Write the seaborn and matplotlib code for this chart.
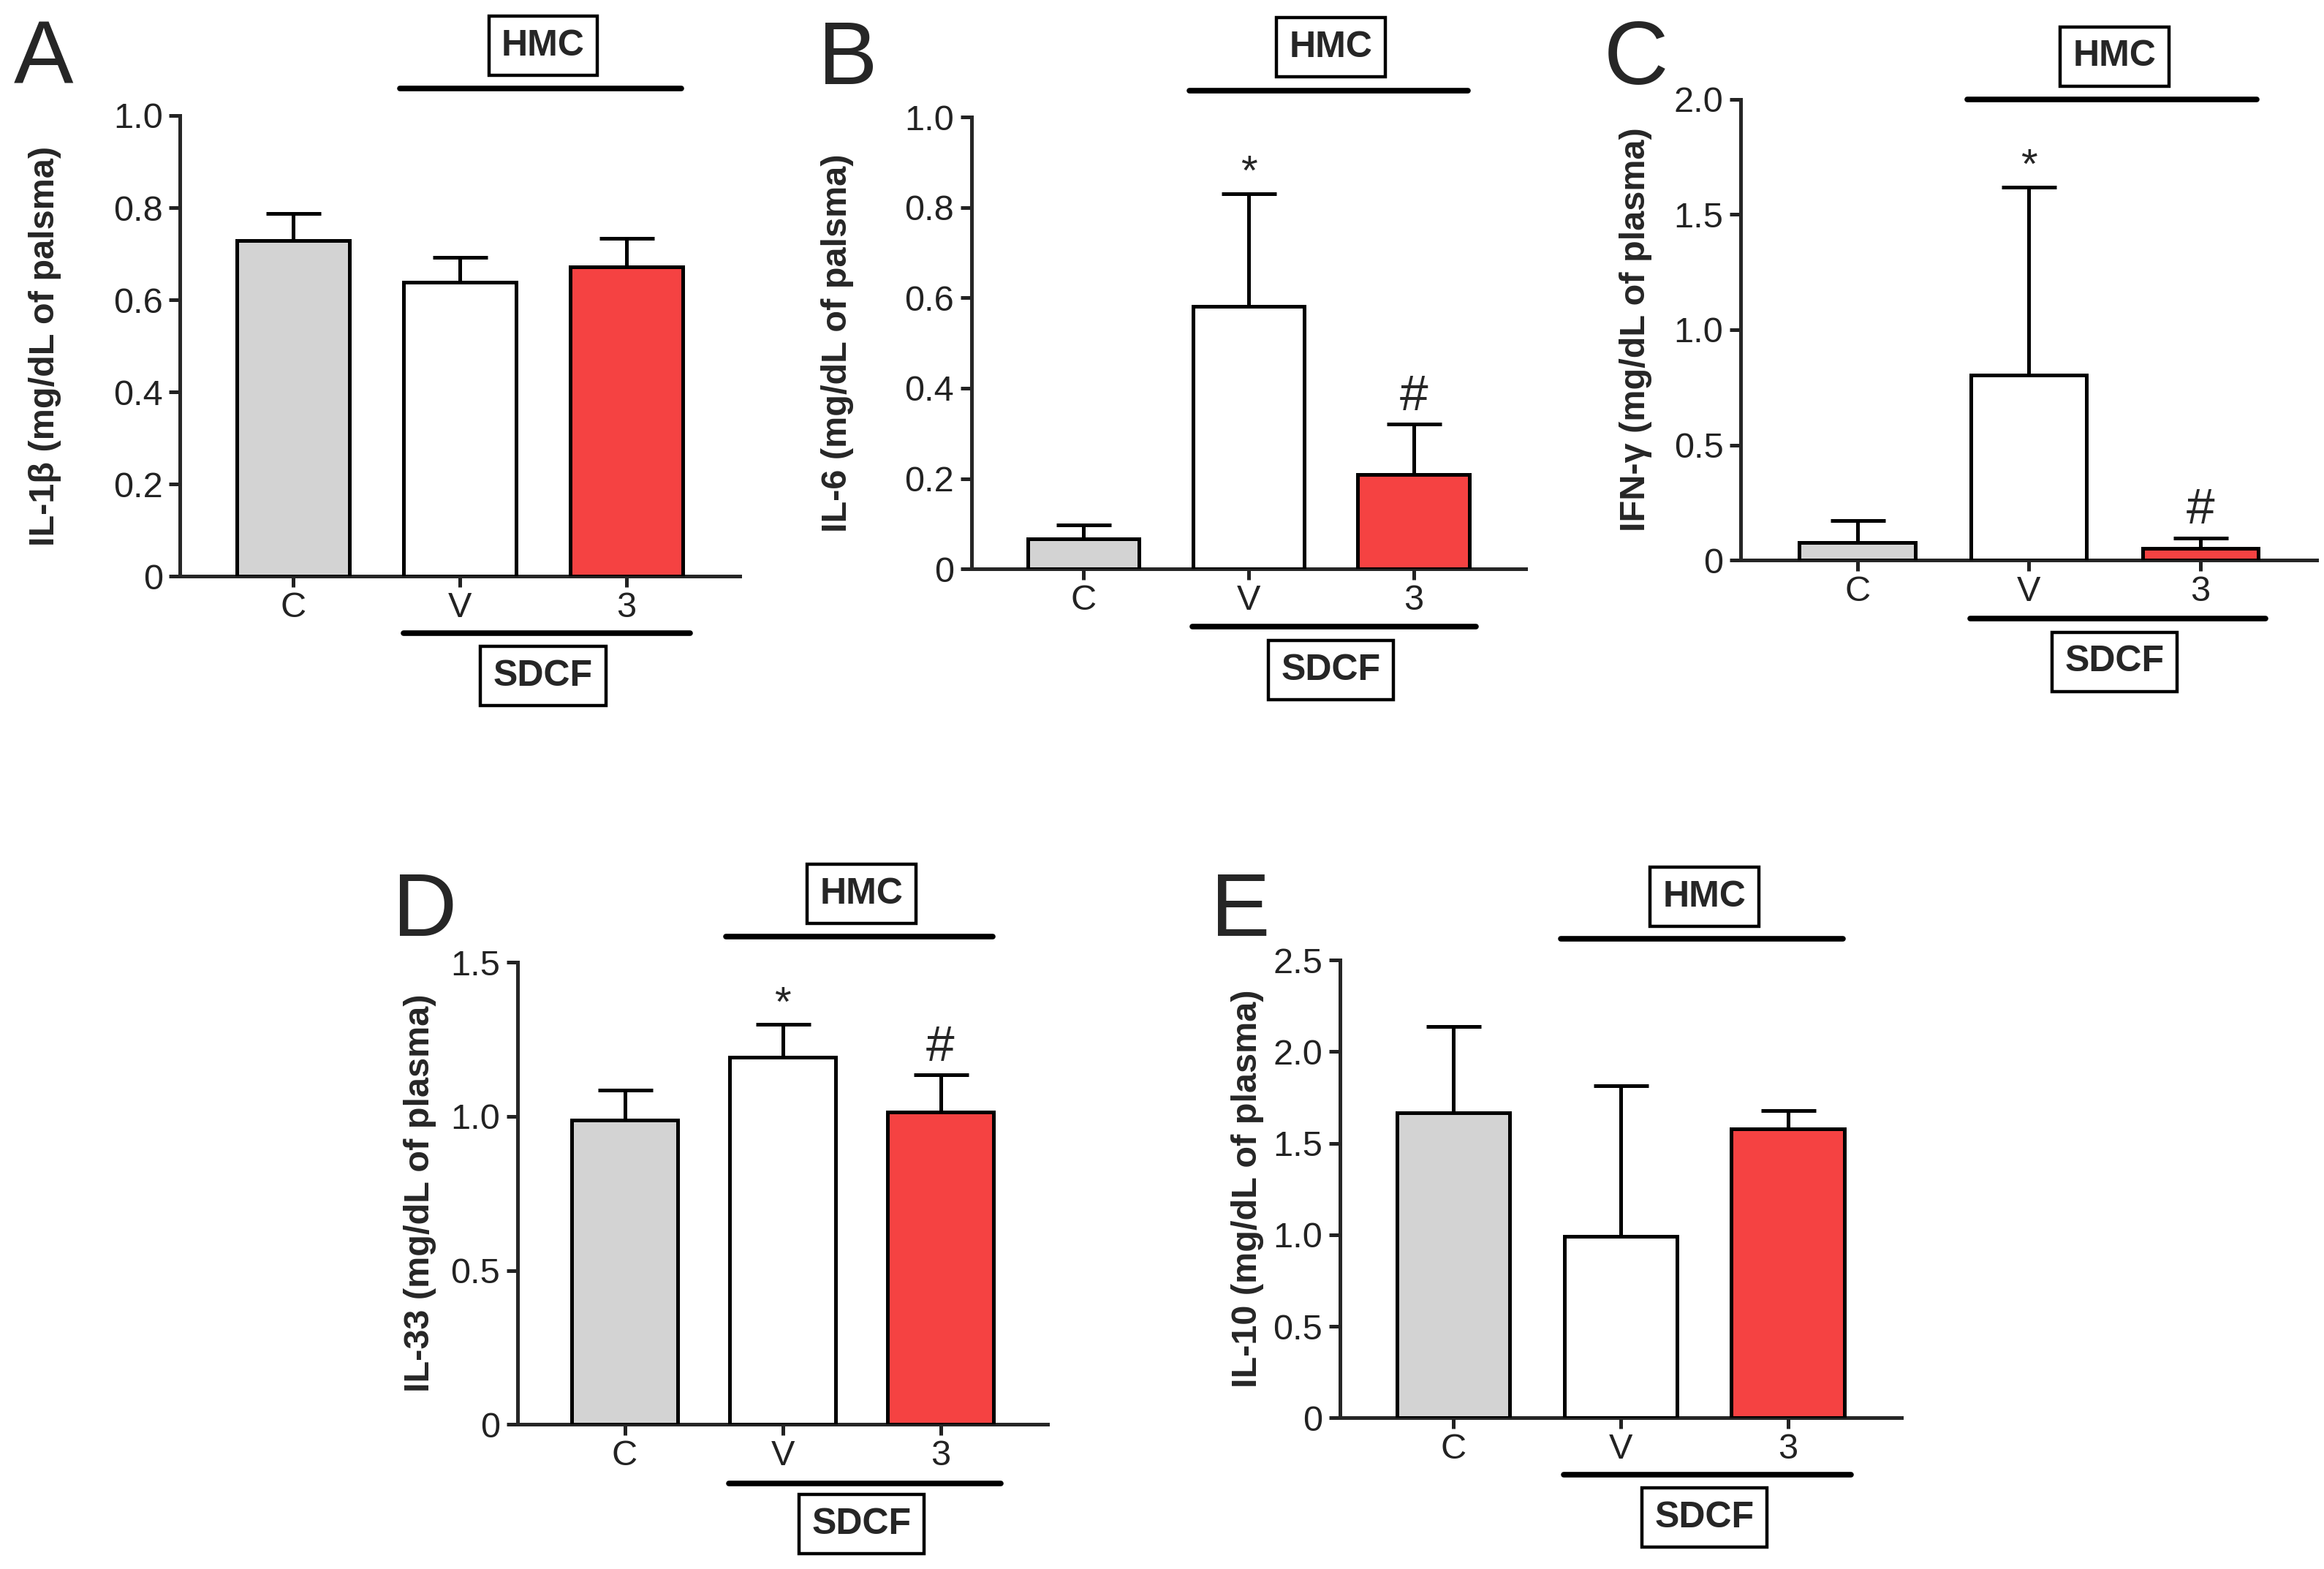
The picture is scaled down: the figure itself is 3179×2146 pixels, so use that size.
import numpy as np
import pandas as pd
import seaborn as sns
import matplotlib
matplotlib.use("Agg")
import matplotlib.pyplot as plt
import matplotlib.transforms as mtransforms
from matplotlib.ticker import FuncFormatter

groups = ["C", "V", "3"]

il1b_mean = [0.728, 0.638, 0.671]
il1b_top = [0.788, 0.692, 0.733]
il6_mean = [0.067, 0.581, 0.209]
il6_top = [0.098, 0.831, 0.320]
ifng_mean = [0.075, 0.802, 0.051]
ifng_top = [0.173, 1.620, 0.097]
il33_mean = [0.989, 1.191, 1.014]
il33_top = [1.084, 1.298, 1.134]
il10_mean = [1.668, 0.992, 1.579]
il10_top = [2.137, 1.815, 1.680]

labels = ["IL-1β (mg/dL of palsma)", "IL-6 (mg/dL of palsma)", "IFN-γ (mg/dL of plasma)",
          "IL-33 (mg/dL of plasma)", "IL-10 (mg/dL of plasma)"]
letters = ["A", "B", "C", "D", "E"]
ymax = [1.0, 1.0, 2.0, 1.5, 2.5]
ystep = [0.2, 0.2, 0.5, 0.5, 0.5]
marks = [("", ""), ("*", "#"), ("*", "#"), ("*", "#"), ("", "")]

colors = ["#d3d3d3", "#ffffff", "#f54242"]

sns.set_style("ticks")
plt.rcParams["font.family"] = ["Liberation Sans", "DejaVu Sans"]

fig = plt.figure(figsize=(31.79, 21.46), dpi=100)

# axes rect, letter pos, ylabel x, hmc line y, hmc box y, sdcf line y, sdcf box y
layout = [
    ([0.0775, 0.6327, 0.2408, 0.2937], (0.006, 0.988), -0.242, 1.059, 1.151, -0.124, -0.217),
    ([0.418, 0.6374, 0.2385, 0.2880], (0.352, 0.988), -0.242, 1.059, 1.154, -0.127, -0.224),
    ([0.749, 0.6430, 0.2480, 0.2937], (0.690, 0.988), -0.182, 1.000, 1.093, -0.127, -0.221),
    ([0.2226, 0.0921, 0.2283, 0.2946], (0.169, 0.445), -0.184, 1.055, 1.148, -0.128, -0.216),
    ([0.5765, 0.0963, 0.2417, 0.2918], (0.521, 0.445), -0.164, 1.046, 1.138, -0.124, -0.218),
]

means = [il1b_mean, il6_mean, ifng_mean, il33_mean, il10_mean]
tops = [il1b_top, il6_top, ifng_top, il33_top, il10_top]

fmt = FuncFormatter(lambda v, p: "0" if abs(v) < 1e-9 else f"{v:.1f}")

for i in range(5):
    rect, lpos, ylx, hl, hb, sl, sb = layout[i]
    ax = fig.add_axes(rect)
    df = pd.DataFrame({"group": groups, "value": means[i]})
    sns.barplot(data=df, x="group", y="value", hue="group", palette=colors, order=groups,
                errorbar=None, width=0.675, edgecolor="black", linewidth=3.6, legend=False,
                saturation=1, ax=ax, zorder=3)
    err = np.array(tops[i]) - np.array(means[i])
    ax.errorbar(x=np.arange(3), y=means[i], yerr=[np.zeros(3), err], fmt="none",
                ecolor="black", elinewidth=3.6, capsize=27, capthick=3.6, zorder=2)
    ax.set_xlim(-0.68, 2.68)
    ax.set_ylim(0, ymax[i])
    ax.set_yticks(np.arange(0, ymax[i] + 1e-6, ystep[i]))
    ax.yaxis.set_major_formatter(fmt)
    sns.despine(ax=ax)
    for s in ["left", "bottom"]:
        ax.spines[s].set_linewidth(3.6)
    ax.tick_params(axis="both", labelsize=35, width=3.6, length=11, direction="out", pad=6,
                   colors="#222222", labelcolor="#222222")
    ax.tick_params(axis="x", pad=4)
    ax.set_xlabel("")
    ax.set_ylabel(labels[i], fontsize=35, fontweight="bold", va="center")
    ax.yaxis.set_label_coords(ylx, 0.5)

    tr = mtransforms.blended_transform_factory(ax.transData, ax.transAxes)
    ax.plot([0.64, 2.33], [hl, hl], transform=tr, color="black", lw=5.5, clip_on=False)
    ax.plot([0.66, 2.38], [sl, sl], transform=tr, color="black", lw=5.5, clip_on=False)
    box = dict(boxstyle="square,pad=0.35", fc="white", ec="black", lw=3.2)
    ax.text(1.5, hb, "HMC", transform=tr, ha="center", va="center", fontsize=36,
            fontweight="bold", bbox=box)
    ax.text(1.5, sb, "SDCF", transform=tr, ha="center", va="center", fontsize=36,
            fontweight="bold", bbox=box)

    star, hash_ = marks[i]
    if star:
        ax.annotate(star, (1, tops[i][1]), xytext=(0, 0), textcoords="offset points",
                    ha="center", va="bottom", fontsize=42)
    if hash_:
        ax.annotate(hash_, (2, tops[i][2]), xytext=(0, 4), textcoords="offset points",
                    ha="center", va="bottom", fontsize=50)

    fig.text(lpos[0], lpos[1], letters[i], fontsize=88, ha="left", va="top")

fig.savefig("out.png", dpi=100)
